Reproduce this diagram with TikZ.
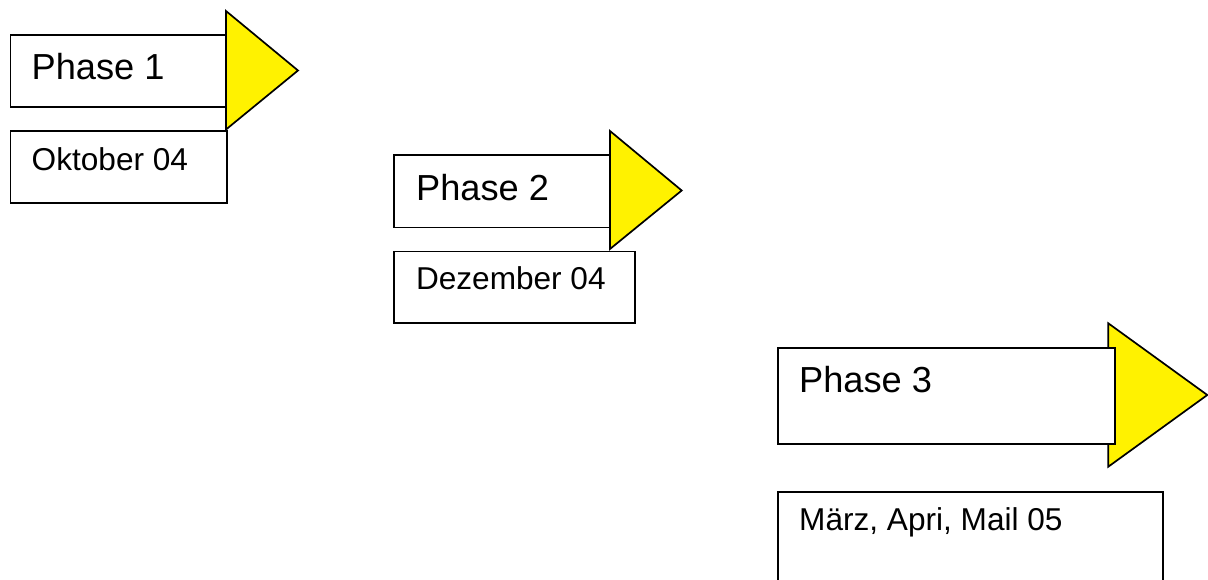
\documentclass[tikz,border=0pt]{standalone}
\usepackage{fontspec}
\setmainfont{Liberation Sans}
\begin{document}
\begin{tikzpicture}[x=1pt,y=-1pt,
  box/.style={draw=black,fill=white,line width=1.7pt,inner sep=0pt,anchor=north west},
  tri/.style={draw=black,fill=yellow,line width=1.7pt,line join=miter},
  big/.style={anchor=base west,inner sep=0pt,font=\fontsize{36.2}{40}\selectfont},
  small/.style={anchor=base west,inner sep=0pt,font=\fontsize{31.6}{36}\selectfont}]
\useasboundingbox (0,0) rectangle (1208,580);
\clip (0,0) rectangle (1208,580);
% Phase 1
\node[box,minimum width=216.5pt,minimum height=72pt] (b1) at (9.5,34.5) {};
\draw[tri] (226,11) -- (298,70.5) -- (226,129.5) -- cycle;
\node[big] (t1) at (31.5,80) {Phase 1};
\node[box,minimum width=216.5pt,minimum height=71.5pt] (d1) at (9.5,130.5) {};
\node[small] (s1) at (31.5,171) {Oktober 04};
% Phase 2
\node[box,minimum width=216.7pt,minimum height=72.4pt] (b2) at (393.3,154.3) {};
\draw[tri] (610,131) -- (681.7,190.5) -- (610,249) -- cycle;
\node[big] (t2) at (416,201) {Phase 2};
\node[box,minimum width=241pt,minimum height=71.6pt] (d2) at (393.3,250.7) {};
\node[small] (s2) at (415.8,290) {Dezember 04};
% Phase 3
\draw[tri] (1108.3,323.3) -- (1207.3,395) -- (1108.3,466.7) -- cycle;
\node[box,minimum width=337pt,minimum height=96pt] (b3) at (777.3,347.3) {};
\node[big] (t3) at (799,392.7) {Phase 3};
\node[box,minimum width=385pt,minimum height=100pt] (d3) at (777.3,491) {};
\node[small] (s3) at (799,530) {März, Apri, Mail 05};
\end{tikzpicture}
\end{document}
